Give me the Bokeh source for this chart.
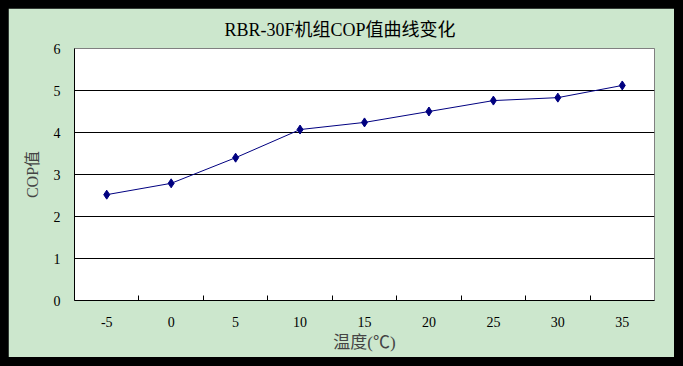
from bokeh.plotting import figure
from bokeh.models import FixedTicker, Range1d, ColumnDataSource
from bokeh.embed import file_html
from bokeh.resources import INLINE

# data
temps = ["-5", "0", "5", "10", "15", "20", "25", "30", "35"]
cop = [2.52, 2.79, 3.40, 4.07, 4.24, 4.50, 4.76, 4.83, 5.12]
y_ticks = [0, 1, 2, 3, 4, 5, 6]

title_text = "RBR-30F机组COP值曲线变化"
x_label = "温度(℃)"
y_label = "COP值"

FONT = "'Liberation Serif', 'Noto Sans CJK SC'"
GREEN = "#CCE7CD"

n = len(temps)
xpos = [i + 0.5 for i in range(n)]
src = ColumnDataSource(dict(x=xpos, y=cop))

p = figure(width=666, height=349, output_backend="svg", toolbar_location=None,
           x_range=Range1d(0, n), y_range=Range1d(0, 6),
           min_border_left=66, min_border_right=20, min_border_top=40, min_border_bottom=57)

p.background_fill_color = "white"
p.border_fill_color = GREEN
p.outline_line_color = "#808080"

p.title.text = title_text
p.title.align = "left"
p.title.text_font = FONT
p.title.text_font_size = "18px"
p.title.text_font_style = "normal"
p.title.text_color = "#000000"
p.title.offset = 150
p.title.standoff = 17

p.line("x", "y", source=src, line_color="#000080", line_width=1)
p.scatter("x", "y", source=src, marker="diamond", size=9,
          fill_color="#000080", line_color="#000080")

# x axis: labels at category centers, minor ticks between categories
xt = FixedTicker(ticks=xpos, minor_ticks=[i for i in range(1, n)])
p.xaxis.ticker = xt
p.xaxis.major_label_overrides = {x: t for x, t in zip(xpos, temps)}
p.xaxis.major_tick_in = 0
p.xaxis.major_tick_out = 0
p.xaxis.minor_tick_in = 5
p.xaxis.minor_tick_out = 0
p.xaxis.minor_tick_line_color = "black"
p.xaxis.axis_line_color = "black"
p.xaxis.major_label_standoff = 16
p.xaxis.major_label_text_font = FONT
p.xaxis.major_label_text_font_size = "14px"
p.xaxis.major_label_text_color = "black"
p.xaxis.axis_label = x_label
p.xaxis.axis_label_text_font = FONT
p.xaxis.axis_label_text_font_size = "17px"
p.xaxis.axis_label_text_font_style = "normal"
p.xaxis.axis_label_standoff = 3

p.yaxis.ticker = FixedTicker(ticks=y_ticks)
p.yaxis.major_tick_in = 0
p.yaxis.major_tick_out = 0
p.yaxis.minor_tick_line_color = None
p.yaxis.axis_line_color = "black"
p.yaxis.major_label_standoff = 14
p.yaxis.major_label_text_font = FONT
p.yaxis.major_label_text_font_size = "14px"
p.yaxis.major_label_text_color = "black"
p.yaxis.axis_label = y_label
p.yaxis.axis_label_text_font = FONT
p.yaxis.axis_label_text_font_size = "16px"
p.yaxis.axis_label_text_font_style = "normal"
p.yaxis.axis_label_standoff = 10

p.xgrid.grid_line_color = None
p.ygrid.grid_line_color = "black"
p.ygrid.grid_line_width = 1

html = file_html(p, INLINE)
style = "<style>html, body { background-color: #000000 !important; margin: 0 !important; padding: 0 !important; } body { padding: 8px !important; }</style>"
idx = html.rfind("</head>")
html = html[:idx] + style + html[idx:]
open("out.html", "w").write(html)
